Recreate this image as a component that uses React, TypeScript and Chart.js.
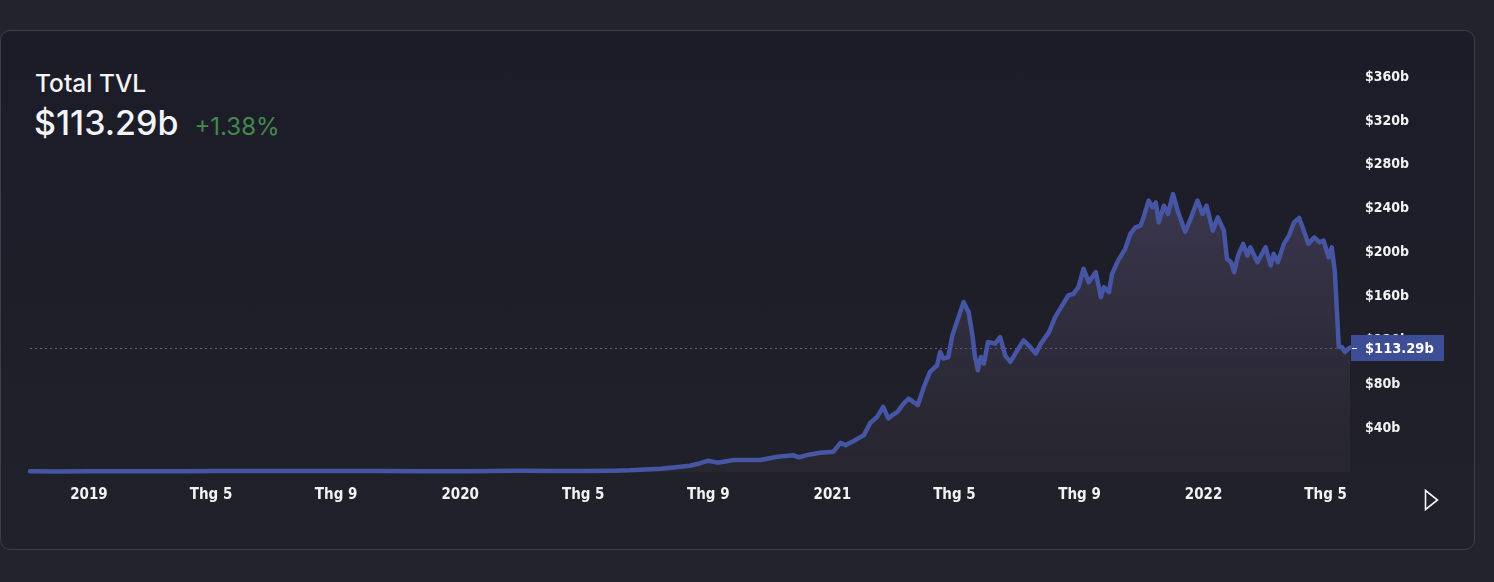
import React, { useEffect, useRef } from "react";
import { Chart, registerables } from "chart.js";

Chart.register(...registerables);

// ---- data (TVL in billions USD) ----
const dates = [
  "2018-11-04", "2018-12-01", "2019-01-01", "2019-02-15", "2019-04-01", "2019-04-30",
  "2019-06-15", "2019-08-01", "2019-08-31", "2019-10-15", "2019-12-01", "2020-01-01",
  "2020-02-29", "2020-04-01", "2020-05-01", "2020-06-01", "2020-06-16", "2020-07-16",
  "2020-08-14", "2020-08-24", "2020-09-01", "2020-09-10", "2020-09-26", "2020-10-22",
  "2020-11-08", "2020-11-24", "2020-11-29", "2020-12-10", "2020-12-20", "2021-01-02",
  "2021-01-09", "2021-01-14", "2021-01-22", "2021-02-01", "2021-02-07", "2021-02-14",
  "2021-02-20", "2021-02-25", "2021-03-01", "2021-03-06", "2021-03-12", "2021-03-17",
  "2021-03-26", "2021-04-01", "2021-04-07", "2021-04-14", "2021-04-17", "2021-04-20",
  "2021-04-25", "2021-04-29", "2021-05-04", "2021-05-10", "2021-05-15", "2021-05-19",
  "2021-05-21", "2021-05-24", "2021-05-27", "2021-05-30", "2021-06-03", "2021-06-10",
  "2021-06-15", "2021-06-20", "2021-06-25", "2021-07-02", "2021-07-08", "2021-07-13",
  "2021-07-20", "2021-07-25", "2021-08-02", "2021-08-08", "2021-08-15", "2021-08-21",
  "2021-08-26", "2021-08-31", "2021-09-05", "2021-09-10", "2021-09-17", "2021-09-22",
  "2021-09-25", "2021-09-30", "2021-10-03", "2021-10-09", "2021-10-16", "2021-10-21",
  "2021-10-26", "2021-10-31", "2021-11-03", "2021-11-08", "2021-11-12", "2021-11-15",
  "2021-11-18", "2021-11-23", "2021-11-27", "2021-12-02", "2021-12-07", "2021-12-14",
  "2021-12-19", "2021-12-26", "2021-12-31", "2022-01-04", "2022-01-10", "2022-01-15",
  "2022-01-21", "2022-01-24", "2022-01-28", "2022-01-31", "2022-02-04", "2022-02-09",
  "2022-02-13", "2022-02-16", "2022-02-23", "2022-03-03", "2022-03-08", "2022-03-11",
  "2022-03-15", "2022-03-21", "2022-03-26", "2022-03-31", "2022-04-05", "2022-04-09",
  "2022-04-14", "2022-04-20", "2022-04-25", "2022-04-29", "2022-05-04", "2022-05-07",
  "2022-05-10", "2022-05-14", "2022-05-17", "2022-05-20", "2022-05-23", "2022-05-25",
];

const tvl = [
  0.6, 0.5, 0.6, 0.6, 0.7, 0.8,
  0.9, 0.9, 0.9, 0.8, 0.7, 0.7,
  1.1, 0.8, 1.0, 1.2, 1.5, 3.0,
  5.7, 8.0, 10.3, 8.5, 10.9, 10.9,
  13.9, 15.2, 13.4, 16.0, 17.6, 18.5,
  26.6, 24.5, 28.2, 33.6, 44.5, 50.3,
  59.4, 48.8, 51.8, 54.8, 62.4, 67.0,
  60.9, 77.5, 91.2, 97.3, 109.4, 103.4,
  104.8, 124.5, 138.2, 154.8, 145.7, 123.0,
  106.4, 92.7, 104.8, 98.8, 118.5, 117.0,
  123.0, 106.0, 100.3, 111.0, 120.0, 115.5,
  107.9, 117.0, 127.5, 141.2, 151.8, 160.9,
  162.4, 168.5, 185.2, 173.0, 182.1, 159.4,
  168.5, 163.9, 180.6, 192.7, 203.4, 217.0,
  223.0, 224.5, 232.0, 247.3, 241.2, 245.7,
  227.5, 242.7, 235.2, 253.3, 236.6, 219.0,
  230.0, 247.3, 235.2, 242.7, 220.0, 232.0,
  220.0, 194.3, 191.2, 182.1, 197.3, 207.9,
  197.3, 204.8, 191.2, 204.8, 188.2, 198.8,
  191.2, 207.9, 215.5, 227.5, 231.5, 221.5,
  207.9, 213.9, 209.4, 210.9, 195.7, 204.8,
  183.6, 113.9, 113.9, 109.4, 112.0, 113.29,
];

const tickDates = [
  "2019-01-01", "2019-05-01", "2019-09-01", "2020-01-01", "2020-05-01", "2020-09-01",
  "2021-01-01", "2021-05-01", "2021-09-01", "2022-01-01", "2022-05-01",
];
const tickLabels = ["2019", "Thg 5", "Thg 9", "2020", "Thg 5", "Thg 9", "2021", "Thg 5", "Thg 9", "2022", "Thg 5"];
const yTicks = [40, 80, 120, 160, 200, 240, 280, 320, 360];

const currentValue = 113.29;
const currentLabel = "$113.29b";
const changeLabel = "+1.38%";
const titleLabel = "Total TVL";

const rangeStart = "2018-11-04";
const rangeEnd = "2022-05-25";

const DAY = 86400000;
const toDay = (s: string) => Date.parse(s + "T00:00:00Z") / DAY;

const LINE = "rgb(70, 86, 165)";
const AXIS_FAMILY = "'DejaVu Sans Condensed', 'DejaVu Sans', sans-serif";

export default function App() {
  const canvasRef = useRef<HTMLCanvasElement | null>(null);

  useEffect(() => {
    const canvas = canvasRef.current;
    if (!canvas) return;

    const overlay = {
      id: "overlay",
      beforeDatasetsDraw(chart: any) {
        const { ctx, chartArea, scales } = chart;
        const y = scales.y.getPixelForValue(currentValue);
        ctx.save();
        ctx.strokeStyle = "rgba(110, 118, 170, 0.75)";
        ctx.lineWidth = 1;
        ctx.setLineDash([2, 3]);
        ctx.beginPath();
        ctx.moveTo(chartArea.left, Math.round(y) + 0.5);
        ctx.lineTo(chartArea.right, Math.round(y) + 0.5);
        ctx.stroke();
        ctx.restore();
      },
      afterDraw(chart: any) {
        const { ctx, chartArea, scales } = chart;
        const y = Math.round(scales.y.getPixelForValue(currentValue));
        const x0 = chartArea.right + 1;
        ctx.save();
        ctx.fillStyle = "rgb(61, 77, 150)";
        ctx.fillRect(x0, y - 13, 93, 26);
        ctx.fillStyle = "#ffffff";
        ctx.fillRect(x0 + 1, y, 5, 1);
        ctx.font = `bold 14.5px ${AXIS_FAMILY}`;
        ctx.textBaseline = "middle";
        ctx.textAlign = "left";
        ctx.fillText(currentLabel, chartArea.right + 15, y + 1);
        ctx.restore();
      },
    };

    const chart = new Chart(canvas, {
      type: "line",
      data: {
        datasets: [
          {
            data: dates.map((d, i) => ({ x: toDay(d), y: tvl[i] })),
            borderColor: LINE,
            borderWidth: 4.5,
            borderJoinStyle: "round",
            borderCapStyle: "round",
            pointRadius: 0,
            tension: 0,
            fill: "origin",
            clip: false as any,
            backgroundColor: (c: any) => {
              const area = c.chart.chartArea;
              if (!area) return "rgba(80,70,100,0.3)";
              const g = c.chart.ctx.createLinearGradient(0, area.top + 110, 0, area.bottom);
              g.addColorStop(0, "rgba(100, 88, 130, 0.45)");
              g.addColorStop(1, "rgba(62, 56, 66, 0.25)");
              return g;
            },
          },
        ],
      },
      options: {
        responsive: false,
        animation: false,
        devicePixelRatio: 1,
        layout: { padding: { left: 30, top: 77, right: 44, bottom: 65 } },
        plugins: { legend: { display: false }, tooltip: { enabled: false } },
        scales: {
          x: {
            type: "linear",
            min: toDay(rangeStart),
            max: toDay(rangeEnd),
            grid: { display: false, drawTicks: false },
            border: { display: false },
            afterBuildTicks: (s: any) => {
              s.ticks = tickDates.map((d) => ({ value: toDay(d) }));
            },
            afterFit: (s: any) => {
              s.height = 45;
            },
            ticks: {
              autoSkip: false,
              maxRotation: 0,
              padding: 14,
              color: "#f2f2f2",
              font: { family: AXIS_FAMILY, size: 15, weight: "bold" },
              callback: (v: any) => {
                const i = tickDates.findIndex((d) => toDay(d) === v);
                return i >= 0 ? tickLabels[i] : "";
              },
            },
          },
          y: {
            position: "right",
            min: 0,
            max: 360,
            grid: { display: false, drawTicks: false },
            border: { display: false },
            afterBuildTicks: (s: any) => {
              s.ticks = yTicks.map((v) => ({ value: v }));
            },
            afterFit: (s: any) => {
              s.width = 100;
            },
            ticks: {
              padding: 15,
              color: "#f2f2f2",
              font: { family: AXIS_FAMILY, size: 14, weight: "bold" },
              callback: (v: any) => `$${v}b`,
            },
          },
        },
      },
      plugins: [overlay],
    });

    return () => chart.destroy();
  }, []);

  return (
    <div style={{ position: "fixed", inset: 0, background: "#22232c", overflow: "hidden" }}>
      <div
        style={{
          position: "absolute",
          left: 0,
          top: 30,
          width: 1473,
          height: 518,
          border: "1px solid rgb(60, 62, 74)",
          borderRadius: 10,
          background: "linear-gradient(180deg, #1b1c28 0%, #1e1f29 60%, #202129 100%)",
        }}
      />
      <div
        style={{
          position: "absolute",
          left: 35,
          top: 68,
          fontFamily: "Inter, 'Noto Sans', sans-serif",
          fontSize: 24.5,
          fontWeight: 500,
          color: "#f4f4f6",
          lineHeight: "30px",
          whiteSpace: "nowrap",
        }}
      >
        {titleLabel}
      </div>
      <div
        style={{
          position: "absolute",
          left: 34,
          top: 102,
          fontFamily: "Inter, 'Noto Sans', sans-serif",
          color: "#f4f4f6",
          lineHeight: "42px",
          whiteSpace: "nowrap",
        }}
      >
        <span style={{ fontSize: 34, fontWeight: 500 }}>{currentLabel}</span>
        <span style={{ fontSize: 24, fontWeight: 400, color: "rgb(67, 137, 77)", marginLeft: 16 }}>{changeLabel}</span>
      </div>
      <canvas
        ref={canvasRef}
        width={1494}
        height={582}
        style={{ position: "absolute", left: 0, top: 0, width: 1494, height: 582 }}
      />
      <svg
        width={20}
        height={26}
        style={{ position: "absolute", left: 1422, top: 487 }}
        viewBox="0 0 20 26"
      >
        <polygon points="3.5,3.5 3.5,22.5 15.5,13" fill="none" stroke="#f4f4f6" strokeWidth={1.6} />
      </svg>
    </div>
  );
}
